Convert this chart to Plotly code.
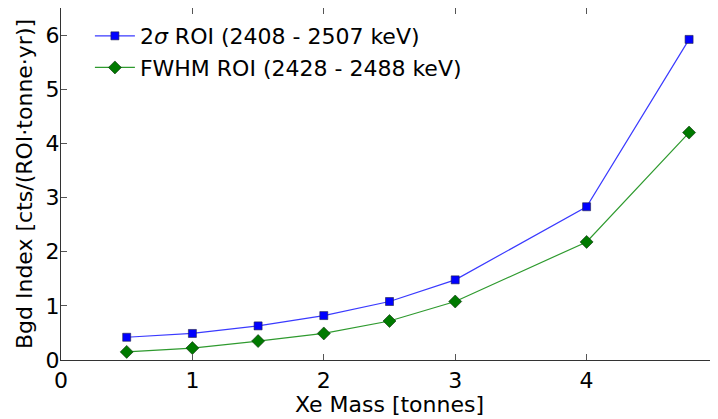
import plotly.graph_objects as go

mass = [0.5, 1.0, 1.5, 2.0, 2.5, 3.0, 4.0, 4.78]
roi_2sigma = [0.42, 0.49, 0.63, 0.82, 1.08, 1.48, 2.83, 5.92]
roi_fwhm = [0.15, 0.22, 0.35, 0.49, 0.72, 1.08, 2.18, 4.20]
name_2sigma = "2<i>σ</i> ROI (2408 - 2507 keV)"
name_fwhm = "FWHM ROI (2428 - 2488 keV)"
x_ticks = [0, 1, 2, 3, 4, 5]
y_ticks = [0, 1, 2, 3, 4, 5, 6]

font = "DejaVu Sans"
fig = go.Figure()
fig.add_trace(go.Scatter(
    x=mass, y=roi_2sigma, mode="lines+markers", name=name_2sigma,
    line=dict(color="#3a3aff", width=1.2),
    marker=dict(symbol="square", size=8, color="#0000ff",
                line=dict(color="#222244", width=0.6)),
))
fig.add_trace(go.Scatter(
    x=mass, y=roi_fwhm, mode="lines+markers", name=name_fwhm,
    line=dict(color="#2e9a2e", width=1.2),
    marker=dict(symbol="diamond", size=10, color="#007a00",
                line=dict(color="#113311", width=0.6)),
))

axis_common = dict(
    showline=True, linecolor="#333333", linewidth=1.2, mirror="ticks",
    ticks="inside", ticklen=6, tickcolor="#555555", showgrid=False,
    zeroline=False, automargin=False,
    tickfont=dict(size=22, color="black", family=font),
)
fig.update_xaxes(range=[0, 5], tickvals=x_ticks,
                 title=dict(text="Xe Mass [tonnes]", font=dict(size=22, family=font, color="black"), standoff=2),
                 **axis_common)
fig.update_yaxes(range=[0, 6.5], tickvals=y_ticks, ticklabelstandoff=-4,
                 title=dict(text="Bgd Index [cts/(ROI·tonne·yr)]", font=dict(size=22, family=font, color="black"), standoff=6),
                 **axis_common)
fig.update_layout(
    width=718, height=419,
    margin=dict(l=53, r=8, t=0, b=67),
    plot_bgcolor="white", paper_bgcolor="white",
    font=dict(family=font, color="black"),
    legend=dict(x=0.044, y=0.98, xanchor="left", yanchor="top",
                bgcolor="rgba(255,255,255,0)", borderwidth=0,
                font=dict(size=22, family=font, color="black"),
                itemwidth=40, tracegroupgap=0),
)
fig.write_html("out.html")
